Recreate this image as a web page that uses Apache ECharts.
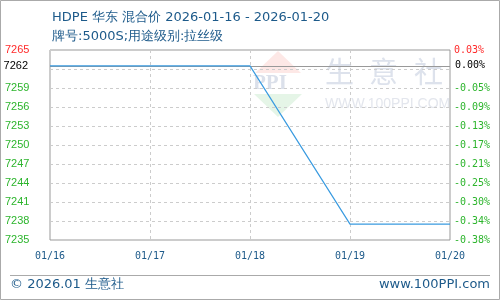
<!DOCTYPE html>
<html><head><meta charset="utf-8">
<script src="https://cdn.jsdelivr.net/npm/echarts@6/dist/echarts.min.js"></script>
<style>html,body{margin:0;padding:0;background:#fff}#c{width:500px;height:300px}</style>
</head><body><div id="c"></div>
<script>
const categories = ['01/16', '01/17', '01/18', '01/19', '01/20'];
const prices = [7262.5, 7262.5, 7262.5, 7237.5, 7237.5];
const axisMin = 7235;
const axisMax = 7265;
const axisStep = 3;
const titleText = 'HDPE 华东 混合价 2026-01-16 - 2026-01-20';
const subText = '牌号:5000S;用途级别:拉丝级';
const footerLeft = '© 2026.01 生意社';
const footerRight = 'www.100PPI.com';

const base = prices[0];
const RED = '#ff2a2a', GREEN = '#2db52d', BLUE_TXT = '#1d5a8a';

function isHidden(v) { return Math.abs(v - base) < axisStep / 2; }

const chart = echarts.init(document.getElementById('c'), null, {renderer: 'canvas'});
chart.setOption({
  animation: false,
  backgroundColor: '#fff',
  title: [
    {text: titleText, left: 47, top: 6, textStyle: {fontFamily: 'DejaVu Sans', fontSize: 13, fontWeight: 'normal', color: BLUE_TXT}},
    {text: subText, left: 47, top: 25, textStyle: {fontFamily: 'DejaVu Sans', fontSize: 13, fontWeight: 'normal', color: BLUE_TXT}}
  ],
  grid: {left: 50, right: 50, top: 50, bottom: 60, show: true, borderColor: '#999', borderWidth: 1, containLabel: false},
  xAxis: {
    type: 'category', data: categories, boundaryGap: false,
    axisLine: {show: false}, axisTick: {show: false},
    axisLabel: {margin: 11, color: BLUE_TXT, fontFamily: 'DejaVu Sans Mono', fontSize: 10, showMinLabel: true, showMaxLabel: true},
    splitLine: {show: true, lineStyle: {color: '#ccc', type: [3, 3], width: 1}}
  },
  yAxis: [
    {
      type: 'value', min: axisMin, max: axisMax, interval: axisStep, position: 'left',
      axisLine: {show: false}, axisTick: {show: false},
      splitLine: {show: true, lineStyle: {color: '#ccc', type: [3, 3], width: 1}},
      axisLabel: {
        align: 'left', margin: 45, fontFamily: 'Liberation Sans', fontSize: 11,
        formatter: function (v) {
          if (isHidden(v)) return '';
          return v === axisMax ? '{r|' + v + '}' : '{g|' + v + '}';
        },
        rich: {r: {color: RED, fontFamily: 'Liberation Sans', fontSize: 11}, g: {color: GREEN, fontFamily: 'Liberation Sans', fontSize: 11}}
      }
    },
    {
      type: 'value', min: axisMin, max: axisMax, interval: axisStep, position: 'right',
      axisLine: {show: false}, axisTick: {show: false}, splitLine: {show: false},
      axisLabel: {
        align: 'left', margin: 4, fontFamily: 'DejaVu Sans Mono', fontSize: 10,
        formatter: function (v) {
          if (isHidden(v)) return '';
          const p = ((v - base) / base * 100).toFixed(2) + '%';
          return v === axisMax ? '{r|' + p + '}' : '{g|' + p + '}';
        },
        rich: {r: {color: RED, fontFamily: 'DejaVu Sans Mono', fontSize: 10}, g: {color: GREEN, fontFamily: 'DejaVu Sans Mono', fontSize: 10}}
      }
    }
  ],
  series: [
    {
      type: 'line', data: [], z: 1, yAxisIndex: 0,
      markLine: {
        z: 1,
        silent: true, symbol: 'none', animation: false,
        lineStyle: {color: '#999', type: 'solid', width: 1},
        data: [
          {yAxis: base, label: {show: true, position: 'start', distance: 22, formatter: String(Math.floor(base)), color: '#000', fontFamily: 'Liberation Sans', fontSize: 11}},
          {yAxis: base, label: {show: true, position: 'end', distance: 5, formatter: '0.00%', color: '#000', fontFamily: 'DejaVu Sans Mono', fontSize: 10}}
        ]
      }
    },
    {
      type: 'line', data: prices, z: 6, yAxisIndex: 0,
      showSymbol: false, symbol: 'none',
      lineStyle: {color: '#3a9be0', width: 1.2}
    }
  ],
  graphic: [
    {type: 'group', z: -10, silent: true, children: [
      {type: 'polygon', shape: {points: [[278, 51], [301, 73], [255, 73]]}, style: {fill: 'rgba(240,110,100,0.16)'}},
      {type: 'text', x: 253, y: 73, style: {text: 'PPI', font: 'bold 21px "Liberation Serif"', fill: '#dbe0ea'}},
      {type: 'polygon', shape: {points: [[254, 94], [302, 94], [278, 117]]}, style: {fill: 'rgba(110,200,120,0.18)'}},
      {type: 'text', x: 325, y: 57, style: {text: '生', font: '29px "Noto Sans CJK SC"', fill: '#dde2ec'}},
      {type: 'text', x: 369, y: 57, style: {text: '意', font: '29px "Noto Sans CJK SC"', fill: '#dde2ec'}},
      {type: 'text', x: 414, y: 57, style: {text: '社', font: '29px "Noto Sans CJK SC"', fill: '#dde2ec'}},
      {type: 'text', x: 325, y: 97, style: {text: 'WWW.100PPI.COM', font: '14px "Liberation Sans"', fill: '#e3e6ed'}}
    ]},
    {type: 'rect', z: 10, silent: true, shape: {x: 0.5, y: 0.5, width: 499, height: 299}, style: {fill: 'none', stroke: '#aaa', lineWidth: 1}},
    {type: 'line', z: 10, silent: true, shape: {x1: 10, y1: 275.5, x2: 490, y2: 275.5}, style: {stroke: '#aaa', lineWidth: 1}},
    {type: 'text', z: 10, x: 10, y: 278, style: {text: footerLeft, font: '13px "DejaVu Sans"', fill: BLUE_TXT}},
    {type: 'text', z: 10, x: 490, y: 278, style: {text: footerRight, font: '13px "DejaVu Sans"', fill: BLUE_TXT, textAlign: 'right'}}
  ]
});
</script>
</body></html>
